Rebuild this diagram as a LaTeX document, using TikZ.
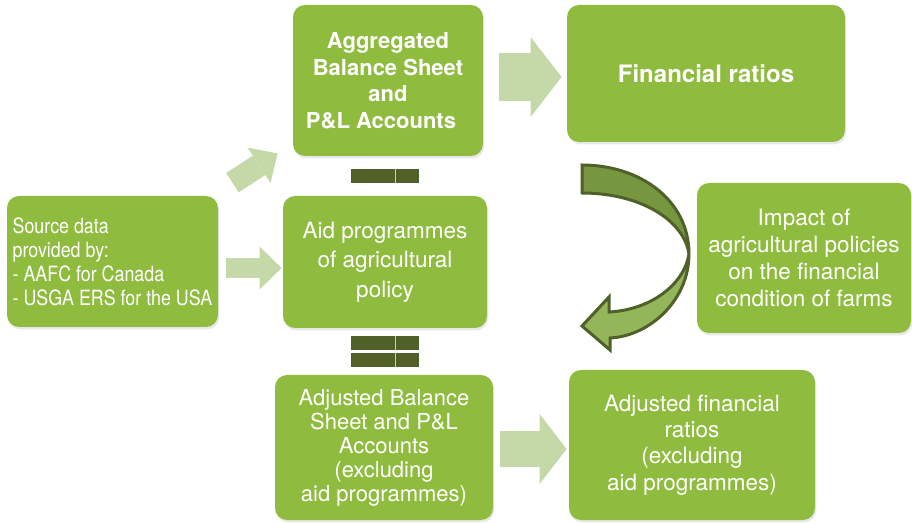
\documentclass[tikz,border=0pt]{standalone}
\usepackage{fontspec}
\setmainfont{TeX Gyre Heros}
\newfontfamily\narrowfont[FakeStretch=0.85]{TeX Gyre Heros}
\usetikzlibrary{arrows.meta,shadows}
\definecolor{boxgreen}{RGB}{143,188,63}
\definecolor{arrowgreen}{RGB}{197,216,168}
\definecolor{bargreen}{RGB}{79,97,40}
\definecolor{curvedark}{RGB}{119,150,64}
\definecolor{curvelight}{RGB}{148,182,90}
\begin{document}
\begin{tikzpicture}
    [x=0.5pt,y=-0.5pt,
     box/.style={shape=rectangle,rounded corners=6pt,fill=boxgreen,text=white,align=center,inner sep=0pt,
       drop shadow={opacity=0.18,shadow xshift=0.6pt,shadow yshift=-1.2pt}},
     bar/.style={shape=rectangle,fill=bargreen,minimum width=34pt,minimum height=7pt,inner sep=0pt,
       path picture={\draw[white!70!bargreen,line width=0.4pt] ([xshift=5pt]path picture bounding box.north) -- ([xshift=5pt]path picture bounding box.south);}},
     fat/.style n args={3}{draw=arrowgreen,line width=#1,-{Triangle[width=#2,length=#3,line width=0pt]}}]
    \useasboundingbox (0,0) rectangle (912,524);
    \node [box,minimum width=95pt,minimum height=75.5pt,font=\bfseries\fontsize{11}{13.25}\selectfont] (agg) at (388,80.5)
      {Aggregated\\Balance Sheet\\and\\P\&L Accounts\hspace*{7pt}};
    \node [box,minimum width=139pt,minimum height=68.5pt,font=\bfseries\fontsize{12}{14}\selectfont] (rat) at (706,73.5)
      {Financial ratios};
    \node [box,align=left,minimum width=105.5pt,minimum height=65.5pt,font=\narrowfont\fontsize{10.5}{12}\selectfont] (src) at (112.5,261.5)
      {Source data\\provided by:\\- AAFC for Canada\\- USGA ERS for the USA};
    \node [box,minimum width=102pt,minimum height=66pt,font=\fontsize{11.25}{14.75}\selectfont] (aid) at (385,262)
      {Aid programmes\\of agricultural\\policy};
    \node [box,minimum width=107pt,minimum height=75pt,font=\fontsize{11.25}{13.5}\selectfont] (imp) at (804,258)
      {Impact of\\agricultural policies\\on the financial\\condition of farms};
    \node [box,minimum width=109pt,minimum height=72.5pt,font=\fontsize{11}{12}\selectfont] (adjbal) at (384,447.5)
      {Adjusted Balance\\Sheet and P\&L\\Accounts\\(excluding\\aid programmes)};
    \node [box,minimum width=123pt,minimum height=75pt,font=\fontsize{11.25}{13.2}\selectfont] (adjrat) at (692,445)
      {Adjusted financial\\ratios\\(excluding\\aid programmes)};
    % minus and equals signs
    \node [bar] (minus) at (385,176) {};
    \node [bar] (eqtop) at (385,343.5) {};
    \node [bar] (eqbot) at (385,360) {};
    % block arrows
    \draw [fat={10pt}{21.5pt}{11pt}] ([shift={(8,6.5)}]src.east) -- ([shift={(-1,6)}]aid.west);
    \draw [fat={11.5pt}{21pt}{11pt}] ([shift={(14,-13)}]src.north east) -- ([shift={(-15,-3)}]agg.south west);
    \draw [fat={24pt}{40pt}{15.5pt}] ([shift={(16,-3.5)}]agg.east) -- ([shift={(-5,3.5)}]rat.west);
    \draw [fat={18pt}{35pt}{13.5pt}] ([shift={(7,1.5)}]adjbal.east) -- ([shift={(-2,4)}]adjrat.west);
    % curved arrow
    \filldraw [fill=curvelight,draw=bargreen,line width=1.5pt,line join=miter]
      (689,254) .. controls (689,300) and (650,336) .. (610,338) -- (610,350) -- (582,326) -- (609,297) -- (609,312)
      .. controls (650,310) and (684,285) .. (689,254) -- cycle;
    \filldraw [fill=curvedark,draw=bargreen,line width=1.5pt,line join=miter]
      (582,165) .. controls (640,165) and (689,200) .. (689,254) .. controls (684,220) and (640,193) .. (582,193) -- cycle;
  \end{tikzpicture}
\end{document}
